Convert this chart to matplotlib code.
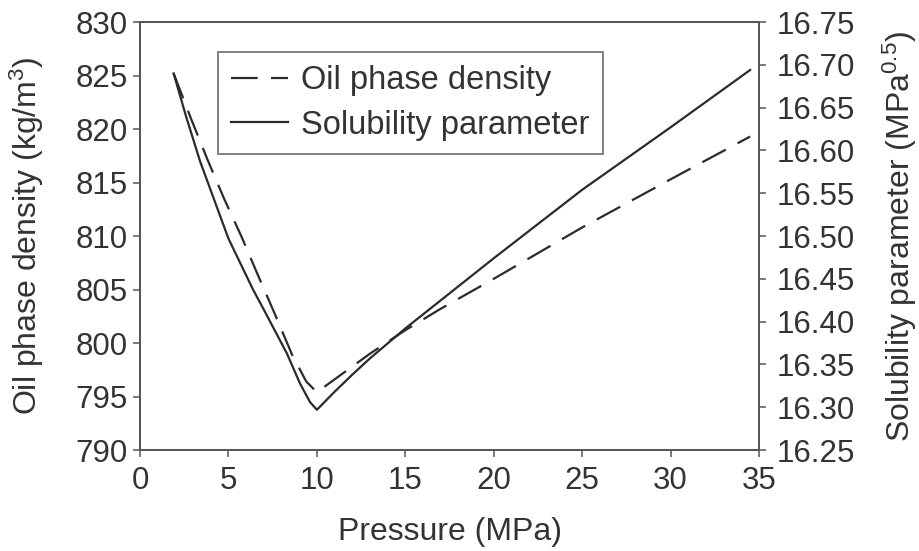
import numpy as np
import matplotlib.pyplot as plt

plt.rcParams['font.family'] = ['Liberation Sans', 'DejaVu Sans']
plt.rcParams['mathtext.default'] = 'regular'

# 油相密度 (左轴)
p_density = [1.9, 2.9, 3.8, 4.75, 5.75, 6.6, 7.6, 8.6, 9.4, 10.0,
             11.0, 12.0, 13.0, 15.0, 17.0, 20.0, 25.0, 27.0, 30.0, 34.5]
density = [825.2, 820.9, 817.2, 813.5, 809.9, 806.6, 802.8, 798.9, 796.4, 795.4,
           796.6, 797.8, 799.0, 801.2, 803.2, 806.0, 810.8, 812.6, 815.3, 819.3]

# 溶解度参数 (右轴)
p_solub = [1.9, 2.6, 3.4, 4.2, 5.0, 6.4, 7.0, 8.3, 9.04, 9.61, 10.0,
           11.0, 12.0, 13.0, 15.0, 20.0, 25.0, 30.0, 34.5]
solub = [16.690, 16.640, 16.587, 16.542, 16.497, 16.437, 16.414, 16.363, 16.328, 16.306, 16.297,
         16.318, 16.338, 16.357, 16.392, 16.474, 16.554, 16.627, 16.694]

x_ticks = [0, 5, 10, 15, 20, 25, 30, 35]
left_ticks = [790, 795, 800, 805, 810, 815, 820, 825, 830]
right_ticks = [16.25, 16.30, 16.35, 16.40, 16.45, 16.50, 16.55, 16.60, 16.65, 16.70, 16.75]

line_col = '#2b2b2b'
axis_col = '#555555'
txt_col = '#333333'
fs_tick = 22.5
fs_lab = 23

fig = plt.figure(figsize=(9.2, 5.51), dpi=100)
ax = fig.add_axes([0.1522, 0.1833, 0.6728, 0.7767])
ax2 = ax.twinx()

l1, = ax.plot(p_density, density, color=line_col, lw=1.6, dashes=(12, 6),
              label='Oil phase density')
l2, = ax2.plot(p_solub, solub, color=line_col, lw=1.6, label='Solubility parameter')

ax.set_xlim(0, 35)
ax.set_ylim(790, 830)
ax2.set_ylim(16.25, 16.75)
ax.set_xticks(x_ticks)
ax.set_yticks(left_ticks)
ax2.set_yticks(right_ticks)
ax2.set_yticklabels(['%.2f' % v for v in right_ticks])

for a in (ax, ax2):
    for s in a.spines.values():
        s.set_color(axis_col)
        s.set_linewidth(1.3)
    a.tick_params(direction='out', length=5, width=1.1, color=axis_col,
                  labelsize=fs_tick, labelcolor=txt_col)
ax.tick_params(axis='x', pad=6.5)
ax.tick_params(axis='y', pad=4)
ax2.tick_params(axis='y', pad=8)

ax.set_xlabel('Pressure (MPa)', fontsize=fs_lab, color=txt_col, labelpad=15)
ax.set_ylabel('Oil phase density (kg/m$^{3}$)', fontsize=fs_lab, color=txt_col, labelpad=21)
ax2.set_ylabel('Solubility parameter (MPa$^{0.5}$)', fontsize=fs_lab, color=txt_col, labelpad=18)

leg = ax.legend(handles=[l1, l2], loc='upper left', bbox_to_anchor=(0.126, 0.93),
                fontsize=23.5, frameon=True, fancybox=False, handlelength=1.75,
                handletextpad=0.4, borderpad=0.4, labelspacing=0.42, borderaxespad=0)
leg.get_frame().set_edgecolor(axis_col)
leg.get_frame().set_linewidth(1.3)
for t in leg.get_texts():
    t.set_color(txt_col)

fig.savefig('out.png', dpi=100)
